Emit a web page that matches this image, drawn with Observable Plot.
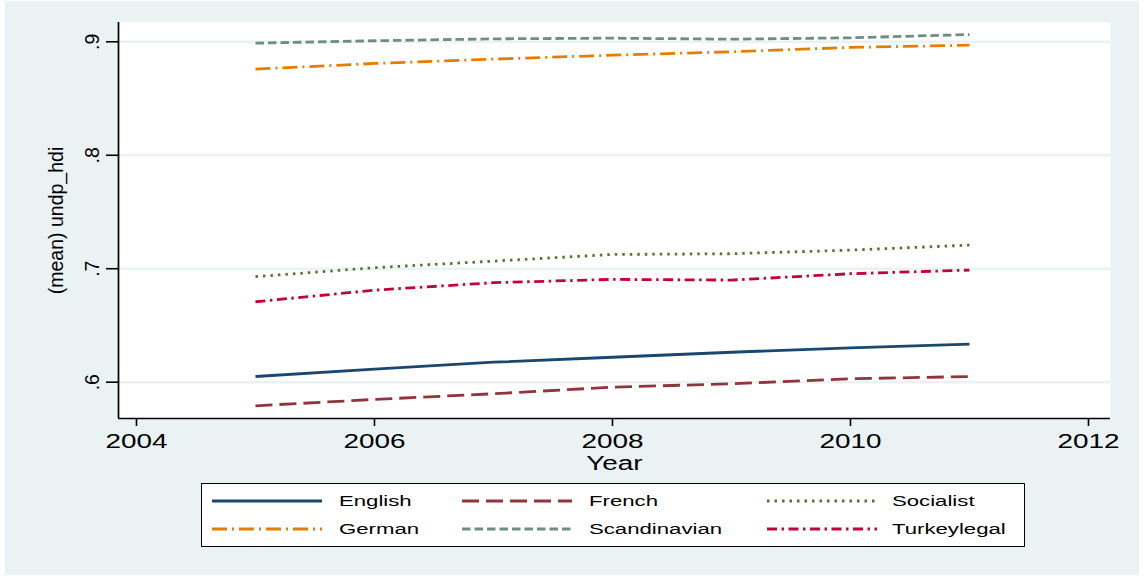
<!DOCTYPE html>
<html>
<head>
<meta charset="utf-8">
<script src="https://cdn.jsdelivr.net/npm/d3@7"></script>
<script src="https://cdn.jsdelivr.net/npm/@observablehq/plot@0.6"></script>
<style>
  body { margin: 0; background: #ffffff; font-family: "Liberation Sans", Arial, sans-serif; }
  #bg { position: absolute; left: 5px; top: 1px; width: 1134px; height: 574px; background: #eaf2f3; }
  #chart { position: absolute; left: 0; top: 0; }
  #legend { position: absolute; left: 201px; top: 483px; width: 822px; height: 62px;
            border: 1.3px solid #000; background: #fff; box-sizing: content-box; }
  .lg-line { position: absolute; }
  .lg-text { position: absolute; font-size: 15.5px; line-height: 18px; color: #000;
             white-space: nowrap; transform: scaleX(1.43); transform-origin: 0 50%; }
</style>
</head>
<body>
<div id="bg"></div>
<div id="chart"></div>
<div id="legend"></div>
<script>
// ---- data ----
const years = [2005, 2006, 2007, 2008, 2009, 2010, 2011];
const english      = [0.6050, 0.6115, 0.6176, 0.6220, 0.6264, 0.6303, 0.6335];
const french       = [0.5792, 0.5848, 0.5898, 0.5956, 0.5986, 0.6030, 0.6050];
const socialist    = [0.6930, 0.7009, 0.7067, 0.7126, 0.7132, 0.7164, 0.7208];
const german       = [0.8759, 0.8809, 0.8847, 0.8882, 0.8912, 0.8950, 0.8970];
const scandinavian = [0.8988, 0.9009, 0.9026, 0.9032, 0.9023, 0.9035, 0.9064];
const turkeylegal  = [0.6709, 0.6811, 0.6877, 0.6906, 0.6900, 0.6956, 0.6988];

const seriesNames  = ["English", "French", "Socialist", "German", "Scandinavian", "Turkeylegal"];
const seriesValues = [english, french, socialist, german, scandinavian, turkeylegal];
const xTicks = [2004, 2006, 2008, 2010, 2012];
const yTicks = [0.6, 0.7, 0.8, 0.9];
const xTitle = "Year";
const yTitle = "(mean) undp_hdi";

// ---- styles ----
const seriesColors = ["#1a476f", "#90353b", "#55752f", "#e37e00", "#6e8e84", "#c10534"];
const seriesDash   = ["none", "17,7", "2.5,5", "15,5,2,5", "8.5,4", "10,4.5,2.5,4.5"];
const bgColor = "#eaf2f3";

const rows = seriesNames.flatMap((name, s) =>
  years.map((yr, i) => ({ year: yr, value: seriesValues[s][i], series: name })));

const xDomain = [2003.849, 2012.185];
const yDomain = [0.568, 0.917];

const lineMarks = seriesNames.map((name, s) =>
  Plot.line(rows.filter(d => d.series === name), {
    x: "year", y: "value",
    stroke: seriesColors[s], strokeWidth: 2.8,
    strokeDasharray: seriesDash[s], strokeLinecap: "butt", strokeLinejoin: "round"
  }));

const chart = Plot.plot({
  width: 1143,
  height: 480,
  marginLeft: 118,
  marginRight: 33,
  marginTop: 22,
  marginBottom: 62,
  style: { background: "transparent", fontFamily: "'Liberation Sans', Arial, sans-serif", fontSize: "19.5px", color: "#000" },
  x: { domain: xDomain },
  y: { domain: yDomain },
  marks: [
    Plot.frame({ fill: "#ffffff", stroke: "none" }),
    Plot.gridY(yTicks, { stroke: bgColor, strokeOpacity: 1, strokeWidth: 2.6 }),
    ...lineMarks,
    Plot.ruleX([xDomain[0]], { stroke: "#000", strokeWidth: 1.7 }),
    Plot.ruleY([yDomain[0]], { stroke: "#000", strokeWidth: 1.7 }),
    Plot.axisX(xTicks, {
      tickSize: 8, tickPadding: 8, strokeWidth: 1.6,
      tickFormat: d => String(d),
      label: xTitle, labelAnchor: "center", labelOffset: 51, labelArrow: "none",
      fontSize: 19.5
    }),
    Plot.axisY(yTicks, {
      tickSize: 12, tickPadding: 8, strokeWidth: 1.6,
      tickRotate: -90, textAnchor: "middle",
      tickFormat: d => d3.format(".1f")(d).replace(/^0/, ""),
      label: yTitle, labelAnchor: "center", labelOffset: 69, labelArrow: "none",
      fontSize: 19.5
    })
  ]
});
document.getElementById("chart").appendChild(chart);

// horizontal stretch of horizontal texts (the reference's text is wide)
function stretch(t, sx, sy) {
  const tr = t.getAttribute("transform");
  if (tr) t.setAttribute("transform", tr + ` scale(${sx},${sy})`);
  else {
    const x = +t.getAttribute("x") || 0, y = +t.getAttribute("y") || 0;
    t.setAttribute("transform", `translate(${x},${y}) scale(${sx},${sy}) translate(${-x},${-y})`);
  }
}
chart.querySelectorAll('g[aria-label="x-axis tick label"] text, g[aria-label="x-axis label"] text')
  .forEach(t => stretch(t, 1.43, 1));

// ---- legend ----
const legend = document.getElementById("legend");
const lgLineX = [10, 260, 565];
const lgLabelX = [137, 387, 690];
const lgRowY = [17, 45];
const lgLineW = 110;
seriesNames.forEach((name, s) => {
  const r = Math.floor(s / 3), c = s % 3;
  const svgNS = "http://www.w3.org/2000/svg";
  const sw = document.createElementNS(svgNS, "svg");
  sw.setAttribute("class", "lg-line");
  sw.setAttribute("width", lgLineW);
  sw.setAttribute("height", 8);
  sw.style.left = lgLineX[c] + "px";
  sw.style.top = (lgRowY[r] - 4) + "px";
  const ln = document.createElementNS(svgNS, "line");
  ln.setAttribute("x1", 0); ln.setAttribute("x2", lgLineW);
  ln.setAttribute("y1", 4); ln.setAttribute("y2", 4);
  ln.setAttribute("stroke", seriesColors[s]);
  ln.setAttribute("stroke-width", 2.8);
  if (seriesDash[s] !== "none") ln.setAttribute("stroke-dasharray", seriesDash[s]);
  sw.appendChild(ln);
  legend.appendChild(sw);
  const tx = document.createElement("span");
  tx.className = "lg-text";
  tx.textContent = name;
  tx.style.left = lgLabelX[c] + "px";
  tx.style.top = (lgRowY[r] - 9) + "px";
  legend.appendChild(tx);
});
</script>
</body>
</html>
